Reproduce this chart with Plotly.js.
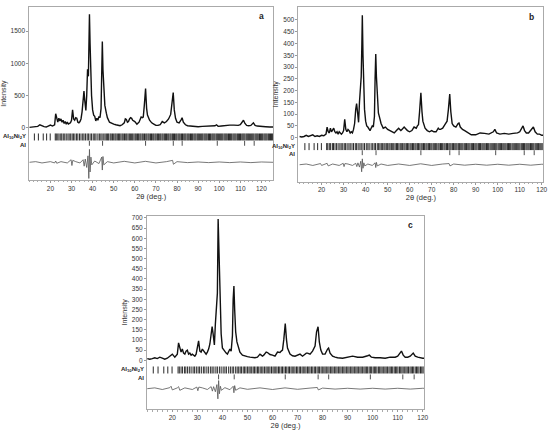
<!DOCTYPE html>
<html><head><meta charset="utf-8">
<script src="https://cdn.plot.ly/plotly-3.0.1.min.js"></script>
<style>html,body{margin:0;padding:0;background:#fff}#chart{width:550px;height:433px}</style>
</head><body><div id="chart"></div>
<script>
// 2θ grid shared by the three observed patterns
const twoTheta = [
10,11,12,13,14,15,16,17,18,19,
20,21,22,22.5,23,23.5,24,24.5,25,25.5,
26,26.5,27,27.5,28,28.5,29,29.5,30,30.5,
31,31.5,32,32.5,33,33.5,34,34.5,35,35.5,
35.9,36.3,36.8,37.2,37.6,38.0,38.3,38.5,38.8,39.1,
39.5,40,40.5,41,41.5,42,42.5,43,43.5,44,
44.3,44.6,44.9,45.3,45.8,46.5,47,48,49,50,
51,52,53,54,55,55.5,56,56.5,57,57.5,
58,58.5,59,60,61,62,63,63.5,64,64.5,
65.1,65.6,66,67,68,69,70,71,72,73,
73.5,74,75,76,77,77.6,78.2,78.7,79.3,80,
81,82,82.4,83,84,85,86,88,90,92,
94,96,98,98.7,99.5,101,103,105,107,109,
110,111,111.5,112.2,113,114,115,116.2,117,118,
119,120,122,124,125.5];
const intensityA = [
10,15,20,15,25,50,30,20,15,25,
45,30,50,220,120,90,150,110,140,90,
120,70,100,60,90,60,70,80,120,280,
140,120,160,150,90,80,100,140,250,450,
570,420,270,500,910,800,1400,1760,1300,800,
500,280,200,180,110,150,120,180,160,300,
800,1340,900,550,350,230,160,90,70,60,
50,40,35,50,80,140,130,90,100,140,
160,150,120,100,60,90,170,160,170,350,
610,300,200,120,80,60,40,40,50,100,
90,80,100,140,210,350,550,280,150,90,
80,130,160,90,50,35,30,25,20,25,
30,25,35,50,25,30,40,45,45,40,
50,90,120,70,40,35,40,80,40,30,
25,20,20,15,15];
const intensityB = [
5,3,5,10,5,8,12,5,8,5,
10,8,15,45,25,20,40,25,35,40,
25,20,25,15,25,20,15,20,30,78,
35,25,35,30,20,25,20,35,60,120,
145,110,65,150,230,260,400,520,350,200,
120,70,50,45,35,30,40,50,45,90,
250,355,260,150,105,80,60,40,45,35,
30,25,20,30,40,35,30,35,40,45,
40,35,30,25,30,45,40,50,55,110,
190,110,70,40,30,25,30,25,25,40,
35,35,40,55,70,120,185,110,60,50,
45,60,62,45,35,30,25,12,12,20,
18,15,25,35,20,15,18,15,18,20,
25,45,50,30,20,20,30,45,25,15,
15,10,10,10,10];
const intensityC = [
8,5,8,12,8,15,10,5,10,20,
30,15,30,85,60,40,55,35,30,45,
50,30,35,25,30,25,20,30,60,95,
45,40,55,45,35,30,40,55,80,140,
165,130,75,180,255,330,695,600,350,220,
130,60,50,45,35,30,45,55,45,120,
300,365,250,140,90,60,40,25,20,18,
15,12,12,15,30,25,20,25,35,40,
38,30,28,25,20,40,38,45,50,100,
180,100,60,30,22,20,25,30,20,30,
35,35,30,45,70,140,165,90,50,30,
30,55,60,35,20,15,12,10,15,20,
15,15,22,25,15,12,12,10,15,15,
20,40,45,25,15,15,20,35,20,15,
12,10,10,10,10];
// difference (obs - calc) curves
const diffTheta = [10,13,16,19,19.5,20,22,22.5,23,25,28,29.8,30.2,30.6,32,34,35.5,36,36.5,37.2,
37.8,38.2,38.5,38.8,39.2,39.6,41,43,44.3,44.6,44.9,45.3,47,50,55,60,65,70,75,77.9,
78.3,80,85,90,95,100,105,110,115,120,125.5];
const diffA = [0,10,-10,5,0,10,-10,20,-15,10,-10,40,-50,30,10,-10,40,-60,50,-80,
100,-250,200,-150,80,-40,20,-20,80,-120,90,-40,10,-10,15,-10,15,-10,10,30,
-30,10,-5,5,-5,5,-5,5,-5,5,0];
const diffB = [0,3,-3,2,5,-3,3,6,-5,3,-3,6,-8,5,3,-3,6,-8,8,-10,
15,-30,25,-15,8,-5,3,-3,8,-12,10,-5,3,-3,3,-3,4,-3,3,5,
-5,3,-2,2,-2,2,-2,2,-2,2,0];
const diffC = [0,4,-4,5,12,-6,4,10,-8,4,-4,8,-10,8,4,-4,10,-12,10,-15,
20,-50,40,-25,12,-8,5,-5,12,-20,15,-8,4,-3,4,-4,4,-3,3,6,
-6,3,-2,2,-2,2,-2,2,-2,2,0];
// Bragg reflection positions
const braggAl10Ni2Y = [12.4,14.3,16.6,18.2,19.9,
22.3,22.8,23.5,24.1,24.9,25.4,26.1,26.8,27.5,28.3,28.9,29.6,30.3,30.9,31.6,32.4,33.0,33.8,34.5,35.3,35.9,36.6,37.4,38.0,38.8,39.5,40.3,41.0,41.6,42.5,43.2,43.9,44.5,
45.3,45.9,46.5,47.1,47.6,48.3,48.8,49.4,50.0,50.6,51.1,51.7,52.3,52.8,53.4,54.0,54.5,55.1,55.7,56.2,56.8,57.4,57.9,58.5,59.0,59.6,60.2,60.7,61.3,61.8,62.4,62.9,63.5,64.0,64.6,65.2,65.7,
66.3,66.8,67.4,67.9,68.5,69.0,69.6,70.1,70.7,71.2,71.8,72.3,72.9,73.4,74.0,74.5,75.0,75.6,76.1,76.7,77.2,77.8,78.3,78.8,79.4,79.9,80.5,81.0,81.5,82.1,82.6,83.2,83.7,84.2,84.8,85.3,
85.8,86.4,86.9,87.4,88.0,88.5,89.0,89.6,90.1,90.6,91.2,91.7,92.2,92.8,93.3,93.8,94.3,94.9,95.4,95.9,96.5,97.0,97.5,98.0,98.6,99.1,99.6,100.2,100.7,101.2,101.7,102.3,102.8,103.3,
103.8,104.4,104.9,105.4,105.9,106.5,107.0,107.5,108.0,108.6,109.1,109.6,110.1,110.7,111.2,111.7,112.2,112.8,113.3,113.8,114.3,114.9,115.4,115.9,116.4,117.0,117.5,118.0,118.5,119.1,
119.6,120.1,120.6,121.2,121.7,122.2,122.7,123.3,123.8,124.3,124.8,125.3];
const braggAl = [38.47,44.72,65.10,78.23,82.44,99.08,112.04,116.57];
const yTicksA = [0,500,1000,1500];
const yTicksB = [0,50,100,150,200,250,300,350,400,450,500];
const yTicksC = [0,50,100,150,200,250,300,350,400,450,500,550,600,650,700];
const xTicks = [20,30,40,50,60,70,80,90,100,110,120];
const panelLetters = ['a','b','c'];

// per-panel placement (positions only)
const panels = [
  {ax:'x', ay:'y', obs:intensityA, diff:diffA, row1:-139, row2:-237, diffY:-531, yt:yTicksA},
  {ax:'x2', ay:'y2', obs:intensityB, diff:diffB, row1:-38, row2:-64, diffY:-115, yt:yTicksB},
  {ax:'x3', ay:'y3', obs:intensityC, diff:diffC, row1:-48, row2:-82, diffY:-140, yt:yTicksC}
];
const traces = [];
panels.forEach(p => {
  traces.push({x:twoTheta, y:p.obs, xaxis:p.ax, yaxis:p.ay, mode:'lines', line:{color:'#111', width:1.4}, hoverinfo:'skip', showlegend:false});
  traces.push({x:braggAl10Ni2Y, y:braggAl10Ni2Y.map(()=>p.row1), xaxis:p.ax, yaxis:p.ay, mode:'markers',
    marker:{symbol:'line-ns', size:5, line:{width:0.9, color:'#111'}}, showlegend:false, hoverinfo:'skip'});
  traces.push({x:braggAl, y:braggAl.map(()=>p.row2), xaxis:p.ax, yaxis:p.ay, mode:'markers',
    marker:{symbol:'line-ns', size:3.5, line:{width:0.8, color:'#222'}}, showlegend:false, hoverinfo:'skip'});
  traces.push({x:diffTheta, y:p.diff.map(v=>v+p.diffY), xaxis:p.ax, yaxis:p.ay, mode:'lines',
    line:{color:'#555', width:0.8}, showlegend:false, hoverinfo:'skip'});
});

const fnt = {family:'Liberation Sans, Arial, sans-serif', size:6.5, color:'#333'};
function xa(domain, range){
  return {domain, range, tickvals:xTicks, showline:true, mirror:true, linecolor:'#aaa', linewidth:1,
    ticks:'outside', ticklen:2, tickcolor:'#999', showgrid:false, zeroline:false, tickfont:fnt,
    minor:{dtick:2, ticks:'outside', ticklen:1.5, tickcolor:'#aaa'},
    title:{text:'2θ (deg.)', font:{family:fnt.family, size:7.5, color:'#333'}, standoff:0}};
}
function ya(domain, range, tv, anchor){
  return {domain, range, tickvals:tv, showline:true, mirror:true, linecolor:'#aaa', linewidth:1,
    ticks:'outside', ticklen:2, tickcolor:'#999', showgrid:false, zeroline:false, tickfont:fnt, anchor,
    title:{text:'Intensity', font:{family:fnt.family, size:7, color:'#333'}, standoff:3}};
}
const layout = {
  width:550, height:433, margin:{l:0,r:0,t:0,b:0}, paper_bgcolor:'#fff', plot_bgcolor:'#fff',
  xaxis: xa([0.0533,0.4964],[10,125.5]),
  yaxis: ya([0.5843,0.9831],[-805,1868], yTicksA, 'x'),
  xaxis2: Object.assign(xa([0.5427,0.9878],[9.5,120.7]), {anchor:'y2'}),
  yaxis2: ya([0.5804,0.9845],[-187,556], yTicksB, 'x2'),
  xaxis3: Object.assign(xa([0.2673,0.7709],[9.9,120.5]), {anchor:'y3'}),
  yaxis3: ya([0.0554,0.5018],[-240,711], yTicksC, 'x3'),
  annotations: []
};
const letterPos = [[261,16],[531.7,17],[410,225]];
panelLetters.forEach((l,i)=>{
  layout.annotations.push({text:'<b>'+l+'</b>', xref:'paper', yref:'paper', x:letterPos[i][0]/550, y:1-letterPos[i][1]/433,
    showarrow:false, font:{family:fnt.family, size:8.5, color:'#222'}, xanchor:'center', yanchor:'middle'});
});
const frameLeft = [0.0533,0.5427,0.2673];
panels.forEach((p,i)=>{
  layout.annotations.push({text:'<b>Al<sub>10</sub>Ni<sub>2</sub>Y</b>', xref:'paper', yref:p.ay, x:frameLeft[i]-0.002, y:p.row1,
    showarrow:false, xanchor:'right', yanchor:'middle', font:{family:fnt.family, size:6, color:'#222'}});
  layout.annotations.push({text:'<b>Al</b>', xref:'paper', yref:p.ay, x:frameLeft[i]-0.002, y:p.row2-(i==0?20:5),
    showarrow:false, xanchor:'right', yanchor:'middle', font:{family:fnt.family, size:6, color:'#222'}});
});
Plotly.newPlot('chart', traces, layout, {staticPlot:true, displayModeBar:false});
</script></body></html>
